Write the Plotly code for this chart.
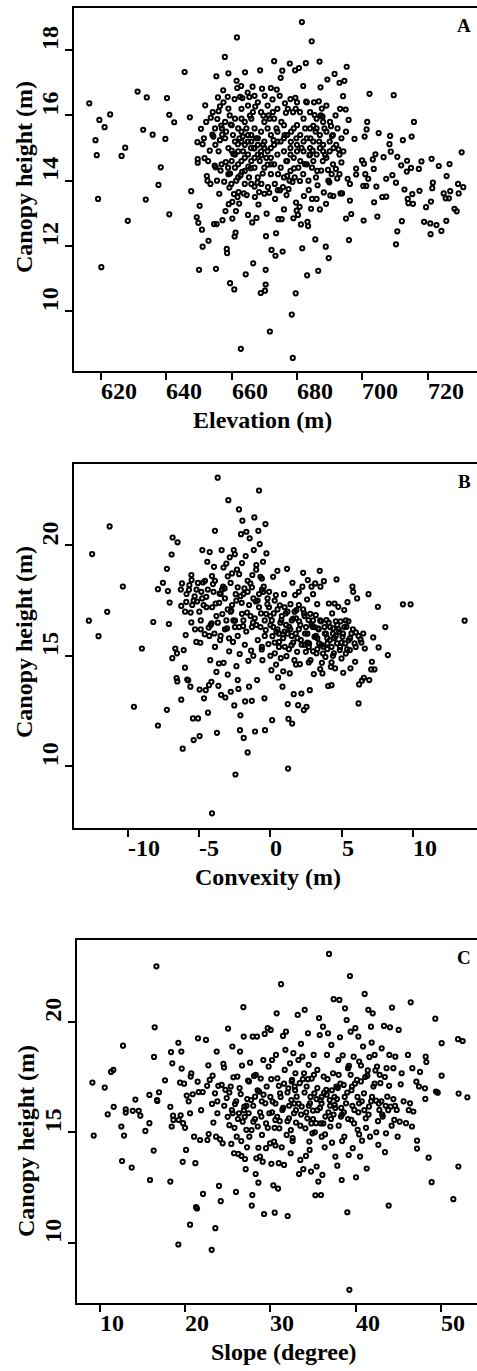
import plotly.graph_objects as go

FONT = "Liberation Serif, Times New Roman, serif"
W, H = 477, 1371

# ---------------- Panel A: Elevation (m) vs Canopy height (m) ----------------
elevation_points = [
    (616.4,16.37),(618.3,15.24),(618.7,14.78),(619.5,15.86),(621.1,15.64),(622.8,16.03),(619.1,13.44),(620.1,11.35),
    (626.3,14.76),(627.4,15.01),(628.2,12.77),(631.2,16.73),(632.9,15.56),(634.0,16.55),(633.7,13.42),(635.8,15.41),
    (637.6,13.87),(638.3,14.41),(639.7,15.28),(640.2,16.53),(640.9,16.02),(640.9,12.97),(642.4,15.79),(645.6,17.33),
    (647.2,15.94),(647.6,13.68),
    (649.5,15.18),(649.6,14.55),(649.6,14.66),(649.3,12.88),(649.8,12.71),(650.0,11.27),(650.2,13.23),(650.6,15.59),
    (650.9,12.5),(651.1,15.12),(651.1,11.98),(651.7,14.69),(651.9,16.31),(652.4,14.14),(652.6,14.0),(652.9,12.16),
    (653.3,14.92),(653.6,15.93),(654.1,15.41),(654.4,15.35),(654.6,12.67),(654.8,14.46),(655.1,14.41),(655.2,11.3),
    (655.3,17.2),(655.4,12.67),(655.6,15.89),(655.8,16.55),(656.0,16.13),(656.4,16.28),(656.4,15.24),(656.6,14.31),
    (656.8,15.69),(657.1,15.41),(657.2,12.79),(657.4,16.77),(657.7,13.97),(657.9,17.79),(658.1,13.07),(658.2,14.57),
    (658.5,11.91),(658.6,11.78),(658.8,16.57),(659.0,17.29),(659.0,16.21),(659.1,13.28),(659.3,13.79),(659.5,10.86),
    (659.5,14.22),(659.7,15.72),(660.0,14.92),(660.2,12.84),(660.2,13.35),(660.5,14.82),(660.7,13.59),(660.8,10.67),
    (660.9,12.29),(661.2,12.41),(661.3,13.07),(661.5,17.06),(661.6,18.39),(661.7,16.84),(661.9,15.12),(662.1,13.65),
    (662.3,13.3),(662.6,16.57),(662.7,14.16),(662.8,8.85),(663.0,15.9),(663.2,14.27),(663.3,16.53),(663.4,15.35),
    (663.7,13.61),(664.1,17.32),(664.3,11.13),(664.6,13.56),(665.0,12.95),(665.1,14.43),(665.4,16.56),(665.6,15.99),
    (665.8,14.38),(666.3,12.72),(666.4,16.88),(666.6,11.47),(666.8,14.99),(667.0,13.82),(667.2,16.27),(667.6,12.86),
    (667.9,13.94),(668.2,13.27),(668.4,13.65),(668.7,17.38),(668.9,10.56),(669.0,14.78),(669.3,16.82),(669.5,14.22),
    (669.7,15.99),(670.2,10.63),(670.4,10.82),(670.4,11.27),(670.5,12.3),(670.7,12.99),(671.0,14.49),(671.3,16.0),
    (671.5,13.63),(671.7,9.38),(672.0,16.84),(672.2,11.88),(672.5,16.49),(672.8,15.24),(673.0,17.66),(673.3,13.44),
    (673.4,11.7),(673.6,12.39),(673.8,16.79),(674.1,13.71),(674.3,12.82),(674.8,13.71),(675.0,17.15),(675.3,12.82),
    (675.5,17.37),(675.6,11.83),(676.0,13.12),(676.3,16.37),(676.6,16.08),(676.8,13.56),(677.0,14.15),(677.4,13.74),
    (677.8,17.59),(678.1,15.19),(678.4,9.9),(678.6,13.96),(678.7,8.57),(678.9,12.85),(679.1,14.38),(679.4,17.38),
    (679.5,16.54),(679.6,10.55),(679.6,16.2),(679.7,13.33),(679.9,13.08),(680.3,12.95),(680.6,17.45),(680.8,13.2),
    (680.9,13.99),(681.2,12.66),(681.5,18.86),(681.6,11.93),(681.9,16.9),(682.1,13.53),(682.4,14.51),(682.7,17.6),
    (682.8,16.42),(683.1,11.1),(683.2,12.74),(683.4,12.61),(683.6,13.71),(683.8,14.78),(684.3,13.14),(684.5,18.27),
    (684.6,13.44),(684.8,14.92),(685.0,15.68),(685.4,16.01),(685.6,12.2),(685.8,14.1),(686.0,13.44),(686.3,13.86),
    (686.5,11.24),(686.7,16.43),(686.9,17.65),(687.0,13.12),(687.2,16.86),(687.4,14.31),(687.6,16.21),(687.8,15.96),
    (688.2,13.64),(688.6,14.78),(688.8,11.98),(688.9,13.29),(689.3,17.1),(689.5,14.33),(689.7,11.63),(689.9,13.95),
    (690.2,13.55),(690.4,15.67),(690.7,15.37),(691.1,13.53),(691.5,17.27),(691.9,14.36),(692.3,14.07),(692.7,14.96),
    (693.0,17.0),(693.2,16.2),(693.3,13.61),(693.6,14.56),(693.8,13.61),(694.1,16.59),(694.5,17.06),(694.9,16.18),
    (695.0,12.84),(695.2,17.49),(695.5,14.06),(695.8,15.86),(695.9,12.18),(696.2,13.39),(696.2,13.9),(696.6,12.98),
    (697.6,15.28),(698.1,14.37),(698.1,14.19),(699.9,14.62),(700.3,13.84),(700.5,14.52),(700.7,15.35),(700.9,14.2),
    (701.2,13.84),(701.3,15.57),(701.5,15.8),(701.8,14.06),(702.2,16.66),(700.4,12.78),(703.2,14.65),(703.5,14.36),
    (703.6,13.34),(704.0,14.81),(704.3,13.82),(704.6,12.9),(705.0,15.46),(706.1,13.5),(706.5,14.72),(707.3,13.51),
    (707.3,14.06),(708.3,15.12),(708.5,15.37),(708.7,14.89),(709.2,14.17),(709.6,16.62),(710.3,13.94),(710.7,12.45),
    (710.3,12.05),(710.7,14.73),(711.9,14.47),(712.1,12.76),(712.4,15.24),(712.9,13.73),(713.6,14.28),(713.7,14.61),
    (713.9,13.44),(714.1,13.31),(714.9,14.39),(715.1,15.35),(715.3,13.59),(715.5,13.29),(715.8,15.8),(717.3,14.36),
    (717.5,13.69),(718.1,14.59),(718.9,12.74),(719.5,13.19),(720.8,12.69),(720.9,12.36),(721.0,13.36),(721.2,14.67),
    (721.4,13.77),(721.6,13.94),(722.7,12.64),(723.4,14.45),(724.2,12.46),(724.9,13.61),(725.5,13.46),(725.7,12.77),
    (725.8,14.14),(726.5,13.46),(726.7,14.51),(726.9,13.68),(728.2,13.14),(728.9,13.06),(729.3,13.9),(729.5,13.61),
    (730.4,14.87),(730.9,13.8),
]
elevation_points_dense = [
    (655,15.1),(656,14.9),(657,15.6),(658,15.8),(658,15.3),(659,14.2),(659,15.0),(660,15.7),(660,14.6),(661,15.9),
    (661,15.2),(661,14.4),(662,15.6),(662,14.9),(662,14.1),(663,16.2),(663,15.5),(663,14.6),(664,15.8),(664,15.1),
    (664,14.3),(665,16.3),(665,15.4),(665,14.8),(666,15.9),(666,15.2),(666,14.6),(666,13.9),(667,16.6),(667,15.6),
    (667,15.0),(667,14.4),(668,15.3),(668,14.8),(668,14.1),(669,16.1),(669,15.5),(669,14.9),(670,15.8),(670,15.2),
    (670,14.4),(670,13.6),(671,16.3),(671,15.6),(671,14.9),(672,15.4),(672,14.7),(672,14.2),(673,15.9),(673,15.1),
    (673,14.5),(674,16.2),(674,15.5),(674,14.8),(675,15.2),(675,14.4),(676,15.7),(676,14.9),(676,14.1),(677,15.4),
    (677,14.6),(678,16.5),(678,15.0),(678,14.3),(679,15.6),(679,14.7),(680,16.4),(680,15.7),(680,15.1),(681,15.4),
    (681,14.6),(682,15.9),(682,14.9),(683,15.3),(683,14.5),(684,16.1),(684,15.6),(684,14.8),(685,15.2),(685,14.6),
    (686,15.9),(686,14.8),(687,15.4),(687,15.0),(688,15.8),(688,15.1),(689,14.7),(689,15.5),(690,15.2),(690,14.9),
    (691,14.5),(691,15.4),(692,15.1),(693,14.8),
    (651.5,15.3),(652.2,15.8),(652.8,14.6),(653.5,13.9),(654.2,16.1),(654.9,15.6),(655.5,14.0),(656.2,13.6),
    (656.9,14.5),(657.5,16.4),(658.3,15.5),(658.9,14.4),(659.4,16.0),(659.9,13.9),(660.4,15.4),(660.9,16.5),
    (661.4,14.0),(661.8,13.5),(662.4,15.3),(662.9,16.9),(663.5,14.9),(664.0,13.9),(664.5,15.6),(664.9,16.7),
    (665.3,14.1),(665.9,15.0),(666.5,16.1),(667.1,13.5),(667.5,15.3),(668.0,16.4),(668.6,14.6),(669.1,13.9),
    (669.6,15.1),(670.1,16.6),(670.6,14.7),(671.1,13.8),(671.6,15.9),(672.1,14.5),(672.6,16.1),(673.2,13.9),
    (673.7,15.6),(674.2,14.2),(674.7,16.6),(675.2,15.8),(675.7,13.8),(676.2,15.4),(676.7,14.6),(677.2,16.2),
    (677.7,14.0),(678.2,15.5),(678.8,16.1),(679.3,14.1),(679.8,15.3),(680.4,14.4),(680.9,16.1),(681.4,15.0),
    (681.9,14.2),(682.5,15.6),(683.0,16.4),(683.5,14.0),(684.1,15.3),(684.6,14.4),(685.2,16.4),(685.7,15.5),
    (686.2,14.3),(686.8,15.2),(687.3,16.0),(687.9,14.6),(688.4,15.6),(689.0,16.3),(689.6,14.0),(690.1,15.8),
    (690.6,14.2),(691.2,15.0),(691.8,16.0),(692.4,15.6),(693.0,14.2),(693.6,15.3),(694.2,14.9),(695.0,15.5),
    (662.0,14.5),(664.0,14.7),(666.0,15.4),(668.0,15.1),(670.0,15.0),(672.0,15.0),(674.0,15.2),(676.0,15.3),
    (678.0,14.8),(680.0,14.9),(682.0,15.2),(684.0,15.0),(686.0,15.6),(688.0,14.9),(661.0,14.8),(663.0,15.2),
    (665.0,15.2),(667.0,14.7),
]

# ---------------- Panel B: Convexity (m) vs Canopy height (m) ----------------
convexity_points = [
    (-12.77,16.59),(-12.54,19.61),(-12.09,15.89),(-11.31,20.86),(-11.48,16.99),(-10.38,18.14),(-9.6,12.69),(-9.04,15.33),
    (-8.24,16.53),(-7.91,11.84),(-7.91,18.02),(-7.56,18.31),(-7.28,18.94),(-7.21,17.93),(-7.09,17.41),(-7.14,16.44),
    (-7.28,12.55),(-6.95,19.59),(-6.88,20.36),(-6.9,14.89),(-6.69,15.33),(-6.6,13.99),(-6.55,13.84),(-6.53,20.14),
    (-6.57,15.11),(-6.27,17.26),(-6.27,13.01),(-6.22,18.28),(-6.17,10.79),(-6.1,15.26),(-6.01,14.46),(-5.96,15.94),
    (-5.92,17.44),(-5.85,13.92),(-5.78,13.89),(-5.73,17.99),(-5.63,13.6),(-5.56,18.66),(-5.54,18.43),(-5.56,16.51),
    (-5.61,16.96),(-5.45,12.16),(-5.4,11.18),(-5.33,17.69),(-5.21,15.63),(-5.16,17.46),(-5.09,12.16),(-4.98,11.36),
    (-4.98,13.47),(-4.93,15.59),(-4.86,17.9),(-4.79,19.79),(-4.74,18.32),(-4.67,13.07),(-4.62,15.98),(-4.55,13.44),
    (-4.51,17.67),(-4.44,19.26),(-4.39,12.42),(-4.34,16.28),(-4.32,13.67),(-4.27,19.7),(-4.23,14.8),(-4.15,13.82),
    (-4.13,16.47),(-4.11,7.86),(-4.11,18.61),(-4.04,18.25),(-3.97,19.03),(-3.94,16.01),(-3.9,20.66),(-3.85,17.37),
    (-3.8,14.27),(-3.76,11.51),(-3.71,23.07),(-3.66,13.64),(-3.62,14.65),(-3.57,17.82),(-3.54,15.71),(-3.47,13.23),
    (-3.43,19.79),(-3.38,16.89),(-3.33,18.13),(-3.29,14.68),(-3.22,18.05),(-3.17,13.11),(-3.1,19.18),(-3.05,16.24),
    (-3.0,14.15),(-2.96,22.05),(-2.91,15.79),(-2.86,19.46),(-2.79,13.37),(-2.75,17.04),(-2.7,18.73),(-2.63,15.63),
    (-2.58,19.79),(-2.54,12.75),(-2.49,16.59),(-2.46,9.62),(-2.44,17.79),(-2.39,14.53),(-2.35,18.91),(-2.3,13.9),
    (-2.25,13.5),(-2.21,21.63),(-2.16,15.08),(-2.14,11.63),(-2.11,12.3),(-2.07,20.51),(-2.02,17.4),(-1.97,21.12),
    (-1.92,16.34),(-1.88,11.28),(-1.83,18.05),(-1.78,12.93),(-1.74,19.52),(-1.69,20.62),(-1.64,16.96),(-1.6,10.62),
    (-1.55,14.77),(-1.5,13.6),(-1.46,20.32),(-1.41,18.28),(-1.36,15.23),(-1.31,12.96),(-1.27,18.66),(-1.22,16.5),
    (-1.17,19.79),(-1.13,21.27),(-1.08,11.57),(-1.03,17.46),(-0.99,19.11),(-0.94,13.9),(-0.89,15.71),(-0.85,20.66),
    (-0.8,22.49),(-0.75,20.06),(-0.7,18.58),(-0.66,16.92),(-0.61,15.29),(-0.56,14.8),(-0.52,19.26),(-0.47,18.13),
    (-0.42,13.07),(-0.38,11.63),(-0.35,20.97),(-0.33,16.16),(-0.28,19.64),(-0.21,17.34),(-0.14,15.53),(-0.09,17.9),
    (0.0,16.39),(0.07,14.35),(0.12,12.08),(0.14,15.89),(0.19,18.58),(0.23,16.92),(0.31,15.11),(0.38,17.75),
    (0.42,16.09),(0.49,18.85),(0.54,14.02),(0.61,15.63),(0.66,17.29),(0.73,14.89),(0.77,16.62),(0.85,13.6),
    (0.89,15.97),(0.96,17.79),(1.01,15.41),(1.08,16.92),(1.13,14.98),(1.17,18.94),(1.22,12.81),(1.24,9.89),
    (1.27,12.14),(1.31,16.31),(1.36,14.2),(1.41,17.34),(1.48,15.48),(1.53,11.93),(1.55,18.31),(1.6,16.69),
    (1.64,13.26),(1.69,14.8),(1.74,17.75),(1.78,16.01),(1.83,17.07),(1.88,15.18),(1.95,12.76),(2.0,17.9),
    (2.02,16.56),(2.07,14.62),(2.14,15.71),(2.18,13.29),(2.25,18.13),(2.3,18.76),(2.35,12.54),(2.37,16.92),
    (2.44,16.01),(2.49,15.18),(2.54,12.69),(2.58,17.55),(2.63,18.43),(2.68,16.62),(2.72,15.56),(2.77,13.44),
    (2.82,14.8),(2.89,18.13),(2.96,16.31),(3.0,17.79),(3.05,14.17),(3.1,15.86),(3.15,18.28),(3.19,16.84),
    (3.24,15.11),(3.29,17.34),(3.36,16.24),(3.43,15.56),(3.47,18.85),(3.52,18.13),(3.57,16.56),(3.62,14.68),
    (3.66,14.2),(3.71,15.41),(3.76,18.38),(3.83,16.01),(3.87,14.95),(3.94,16.62),(4.01,15.56),(4.06,13.63),
    (4.11,17.37),(4.18,15.71),(4.25,14.5),(4.3,13.67),(4.34,16.92),(4.41,16.24),(4.46,15.11),(4.51,17.37),
    (4.55,14.43),(4.6,16.56),(4.65,18.46),(4.69,15.56),(4.77,17.22),(4.84,16.09),(4.88,15.26),(4.93,16.56),
    (5.0,14.88),(5.07,15.86),(5.12,14.23),(5.19,17.07),(5.26,15.56),(5.35,16.31),(5.42,17.43),(5.49,16.56),
    (5.59,15.26),(5.63,14.43),(5.7,16.01),(5.77,18.13),(5.82,17.9),(5.92,15.56),(5.96,14.73),(6.01,16.06),
    (6.1,17.6),(6.2,12.84),(6.24,13.7),(6.34,15.74),(6.43,13.87),(6.53,16.01),(6.57,14.0),(6.64,15.33),
    (6.9,17.79),(6.95,13.9),(7.09,14.38),(7.14,14.73),(7.23,15.83),(7.32,14.38),(7.56,17.22),(7.61,15.38),
    (8.08,16.3),(8.26,15.03),(9.32,17.33),(9.86,17.33),(13.66,16.59),
]
convexity_points_dense = [
    (-4.8,17.6),(-4.5,17.2),(-4.2,16.4),(-4.0,17.9),(-3.8,16.8),(-3.6,17.4),(-3.4,18.0),(-3.2,16.2),(-3.0,17.1),
    (-2.8,18.3),(-2.6,16.6),(-2.4,17.5),(-2.2,18.7),(-2.0,16.9),(-1.9,17.8),(-1.7,16.1),(-1.5,17.3),(-1.3,18.1),
    (-1.1,16.7),(-0.9,17.5),(-0.7,16.3),(-0.5,17.9),(-0.3,16.9),(-0.1,17.2),(0.1,16.6),(0.3,17.5),(0.5,16.2),
    (0.6,15.4),(0.8,16.8),(1.0,17.2),(1.2,16.0),(1.3,15.3),(1.5,16.6),(1.7,17.0),(1.9,15.8),(2.1,16.4),(2.3,17.1),
    (2.4,15.5),(2.6,16.0),(2.8,16.9),(3.0,15.2),(3.1,16.3),(3.3,15.8),(3.5,16.6),(3.7,15.1),(3.9,16.0),(4.0,15.3),
    (4.2,16.3),(4.4,15.0),(4.5,15.8),(4.7,16.4),(4.9,15.4),(5.1,16.0),(5.3,15.1),(5.5,15.7),(-5.5,17.3),(-5.2,18.0),
    (-5.0,17.0),(-4.6,18.4),(-4.3,15.9),(-3.9,15.4),(-3.5,15.9),(-2.9,15.2),(-2.3,15.9),(-1.8,15.5),(-1.2,15.0),
    (-0.6,15.4),(0.0,15.0),(0.4,14.6),(0.9,14.3),(1.8,14.6),(2.7,14.7),(3.5,14.4),(4.3,14.7),(-2.0,19.2),(-1.0,18.9),
    (-3.3,19.0),(-2.5,19.6),(-0.6,18.5),
    (-5.9,17.8),(-5.7,18.2),(-5.4,17.5),(-5.1,18.3),(-4.9,16.6),(-4.7,17.3),(-4.4,18.0),(-4.1,17.2),(-3.9,18.4),
    (-3.7,16.5),(-3.5,17.8),(-3.2,17.6),(-3.0,18.6),(-2.7,17.3),(-2.5,16.3),(-2.3,18.1),(-2.1,17.7),(-1.9,16.6),
    (-1.6,17.9),(-1.4,16.8),(-1.2,17.6),(-1.0,16.4),(-0.8,17.2),(-0.6,18.0),(-0.4,16.6),(-0.2,17.6),(0.0,16.8),
    (0.2,16.3),(0.3,15.6),(0.5,17.1),(0.7,16.5),(0.9,15.8),(1.1,16.4),(1.2,17.0),(1.4,16.2),(1.6,15.6),(1.8,16.7),
    (2.0,16.2),(2.2,15.5),(2.4,16.8),(2.5,16.3),(2.7,15.4),(2.9,16.4),(3.2,15.9),(3.4,16.2),(3.6,15.5),(3.8,16.3),
    (4.0,15.8),(4.1,16.5),(4.3,15.4),(4.6,15.9),(4.8,16.2),(5.0,15.6),(5.2,16.3),(5.4,15.3),(5.6,15.8),(5.8,16.2),
    (6.0,15.4),(6.2,15.9),(6.4,15.6),(-6.3,18.0),(-6.0,17.0),(-5.3,16.2),(-4.9,16.2),(-3.1,16.6),(-2.2,16.3),
    (-1.3,16.3),(-0.4,15.9),(0.6,16.0),(1.5,15.9),(2.6,15.6),(3.3,15.3),(4.4,16.0),(5.3,16.6),(-1.6,18.4),(-2.8,17.0),
    (-0.8,17.8),(1.0,16.1),(2.0,17.3),(3.0,16.6),
]

# ---------------- Panel C: Slope (degree) vs Canopy height (m) ----------------
slope_points = [
    (9.17,17.25),(9.32,14.85),(10.61,17.02),(10.96,15.81),(11.35,17.73),(11.62,17.82),(11.66,16.15),(12.56,15.26),
    (12.64,13.7),(12.75,18.92),(12.87,14.85),(13.07,16.04),(13.07,15.89),(13.77,13.4),(13.89,15.97),(14.2,16.48),
    (14.59,15.97),(14.78,15.75),(15.37,15.06),(15.84,16.69),(15.84,15.41),(15.91,12.84),(16.34,14.17),(16.38,18.41),
    (16.46,19.75),(16.66,22.51),(16.73,16.46),(16.77,16.42),(16.97,16.81),(17.67,17.35),(18.29,16.15),(18.29,12.77),
    (18.37,18.63),(18.45,15.26),(18.52,18.12),(18.61,15.75),(18.65,15.56),(19.23,19.05),(19.23,9.92),(19.27,15.56),
    (19.43,17.25),(19.5,15.77),(19.58,18.65),(19.62,17.88),(19.74,13.66),(19.78,15.41),(19.9,17.2),(20.01,15.2),
    (20.13,14.2),(20.21,16.66),(20.44,16.4),(20.6,15.86),(20.6,10.82),(20.67,17.52),(20.75,17.67),(20.91,16.72),
    (21.07,14.8),(21.22,13.6),(21.3,11.61),(21.42,11.55),(21.49,17.29),(21.53,19.25),(21.61,16.82),(21.77,14.65),
    (22.08,16.82),(22.12,12.21),(22.47,19.18),(22.63,14.65),(22.74,18.03),(22.78,14.92),(22.9,17.37),(23.13,9.68),
    (23.17,16.28),(23.24,17.56),(23.33,15.44),(23.52,16.76),(23.56,10.66),(23.64,14.8),(23.72,18.65),(23.8,15.86),
    (23.91,17.1),(23.99,12.57),(24.11,14.68),(24.19,11.88),(24.3,17.14),(24.42,14.5),(24.5,18.09),(24.58,17.93),
    (24.73,16.92),(24.89,16.55),(25.05,19.69),(25.2,15.32),(25.36,17.07),(25.43,14.47),(25.55,18.88),(25.59,15.86),
    (25.67,17.49),(25.75,14.05),(25.86,16.28),(25.98,12.3),(26.06,14.8),(26.14,17.52),(26.25,14.02),(26.33,15.86),
    (26.45,18.65),(26.53,16.73),(26.61,13.93),(26.68,18.02),(26.76,15.48),(26.84,20.66),(26.88,19.33),(26.96,16.16),
    (27.03,13.79),(27.11,13.33),(27.19,15.11),(27.27,14.32),(27.39,17.34),(27.46,15.86),(27.54,14.8),(27.62,18.15),
    (27.74,16.46),(27.82,11.68),(27.89,12.16),(27.93,19.33),(28.01,15.48),(28.09,17.55),(28.21,16.61),(28.28,13.11),
    (28.36,13.82),(28.44,19.33),(28.52,15.26),(28.6,12.72),(28.67,16.84),(28.79,13.9),(28.87,17.43),(28.95,15.71),
    (29.02,14.88),(29.1,13.67),(29.18,18.27),(29.26,11.3),(29.34,19.45),(29.41,16.31),(29.49,14.28),(29.57,17.07),
    (29.69,19.71),(29.8,17.97),(29.88,15.86),(29.96,14.5),(30.04,19.63),(30.12,13.57),(30.2,18.27),(30.27,16.39),
    (30.35,12.6),(30.43,14.58),(30.51,11.36),(30.59,15.56),(30.66,18.5),(30.74,20.38),(30.82,17.44),(30.9,12.45),
    (30.98,13.6),(31.05,15.18),(31.13,16.76),(31.25,21.7),(31.33,14.32),(31.4,16.01),(31.48,19.36),(31.6,13.52),
    (31.68,17.82),(31.76,18.73),(31.83,19.55),(31.91,14.88),(32.03,11.21),(32.11,16.99),(32.18,15.63),(32.3,18.12),
    (32.38,14.05),(32.46,16.46),(32.54,17.37),(32.61,14.73),(32.69,18.58),(32.77,15.86),(32.85,17.07),(32.93,17.67),
    (33.0,15.44),(33.08,16.61),(33.2,20.31),(33.28,18.27),(33.36,13.11),(33.43,17.22),(33.51,13.75),(33.59,19.0),
    (33.67,16.16),(33.75,18.42),(33.86,13.33),(33.94,17.67),(34.02,20.54),(34.1,15.18),(34.17,13.93),(34.25,17.07),
    (34.33,15.63),(34.41,19.48),(34.49,18.05),(34.56,14.58),(34.64,16.31),(34.76,13.22),(34.84,17.43),(34.92,14.95),
    (34.99,15.98),(35.07,18.5),(35.15,16.76),(35.27,12.15),(35.35,15.41),(35.42,13.45),(35.5,17.82),(35.62,12.77),
    (35.7,20.17),(35.78,19.4),(35.85,16.46),(35.93,12.16),(36.01,14.8),(36.09,13.07),(36.16,19.78),(36.24,17.52),
    (36.36,14.32),(36.44,15.71),(36.55,16.92),(36.63,18.5),(36.75,19.48),(36.87,23.07),(36.95,16.46),(37.02,15.26),
    (37.14,18.95),(37.22,14.53),(37.34,17.67),(37.41,21.02),(37.53,16.24),(37.61,13.9),(37.73,17.07),(37.84,13.49),
    (37.96,18.27),(38.08,20.99),(38.15,19.3),(38.27,15.71),(38.35,12.84),(38.47,18.48),(38.58,17.14),(38.66,14.8),
    (38.74,20.61),(38.86,16.31),(38.93,20.08),(39.01,11.38),(39.09,17.9),(39.17,13.97),(39.25,7.87),(39.32,22.07),
    (39.4,19.55),(39.48,15.56),(39.56,17.07),(39.64,14.28),(39.75,18.42),(39.83,16.01),(39.95,19.71),(40.03,12.96),
    (40.14,17.37),(40.22,15.11),(40.3,19.33),(40.38,16.31),(40.5,13.9),(40.61,18.02),(40.73,14.62),(40.85,18.88),
    (40.96,16.76),(41.04,21.26),(41.16,15.63),(41.28,13.36),(41.35,17.56),(41.47,20.54),(41.55,16.16),(41.67,14.8),
    (41.78,19.78),(41.86,19.06),(41.98,20.38),(42.06,17.07),(42.21,18.5),(42.37,16.43),(42.49,17.97),(42.64,14.43),
    (42.76,16.01),(42.88,17.22),(43.03,18.8),(43.15,15.71),(43.3,19.81),(43.42,14.1),(43.54,14.95),(43.69,16.61),
    (43.85,11.68),(43.93,18.5),(44.01,19.75),(44.09,16.16),(44.24,20.64),(44.4,17.9),(44.51,15.56),(44.63,18.42),
    (44.79,16.01),(44.9,14.8),(45.02,19.63),(45.14,15.48),(45.26,17.17),(45.37,17.67),(45.88,15.41),(46.11,18.5),
    (46.35,16.31),(46.43,20.88),(46.58,15.26),(46.62,17.9),(46.74,15.94),(47.09,17.29),(47.17,14.62),(47.17,14.26),
    (47.4,17.07),(47.52,17.73),(48.1,16.99),(48.14,16.51),(48.18,18.42),(48.26,18.18),(48.53,13.85),(48.88,12.74),
    (49.31,20.14),(49.39,16.84),(49.59,16.79),(50.05,19.03),(50.05,17.56),(51.42,11.97),(51.97,19.21),(52.01,13.45),
    (52.04,16.75),(52.51,19.13),(53.06,16.58),
]
slope_points_dense = [
    (26.0,16.4),(27.0,15.7),(28.0,16.2),(28.5,16.9),(29.5,15.4),(30.0,16.6),(30.5,15.2),(31.0,17.1),(31.5,16.1),
    (32.0,15.5),(32.5,17.3),(33.0,16.0),(33.5,15.3),(34.0,16.8),(34.5,16.2),(35.0,15.6),(35.5,17.0),(35.8,16.1),
    (36.2,15.4),(36.6,16.7),(37.0,16.2),(37.4,15.8),(37.8,16.5),(38.2,17.2),(38.6,15.9),(39.0,16.8),(39.4,17.6),
    (39.8,15.4),(40.2,16.6),(40.6,17.3),(41.0,16.0),(41.4,17.8),(41.8,16.4),(42.2,17.2),(42.6,15.5),(43.0,16.4),
    (43.4,17.5),(43.8,16.0),(44.2,15.3),(35.2,15.0),(36.0,16.3),(37.2,16.9),(38.0,15.3),(39.6,16.2),(41.2,15.2),
    (34.4,17.4),(32.8,16.3),(30.8,15.7),(27.5,17.3),(25.5,16.0),
    (25.2,16.8),(25.8,15.2),(26.4,17.0),(26.9,16.0),(27.3,16.5),(27.8,15.1),(28.3,17.6),(28.8,15.9),(29.2,16.7),
    (29.7,15.2),(30.1,17.4),(30.6,16.3),(31.1,15.5),(31.6,17.2),(32.0,16.8),(32.4,15.1),(32.9,16.9),(33.3,16.3),
    (33.8,17.4),(34.2,15.9),(34.7,16.6),(35.1,17.6),(35.5,16.0),(35.9,15.4),(36.3,16.8),(36.7,17.4),(37.1,15.6),
    (37.5,16.6),(37.9,17.0),(38.3,16.1),(38.7,16.6),(39.1,15.6),(39.5,16.9),(39.9,17.2),(40.3,15.9),(40.7,16.4),
    (41.1,17.5),(41.5,15.8),(41.9,16.6),(42.3,17.8),(42.7,16.3),(43.1,15.8),(43.5,16.2),(43.9,17.1),(44.4,16.5),
    (36.0,16.6),(36.8,15.9),(37.6,16.1),(38.4,15.8),(35.4,16.5),(34.8,15.4),(33.6,15.8),(32.2,16.2),(31.2,16.6),
    (30.2,15.9),(29.0,16.4),(28.2,15.6),(27.2,16.2),(26.2,15.6),(40.4,18.2),(41.6,18.4),(39.2,18.0),(38.0,17.6),
    (42.8,17.6),(43.6,17.9),(44.6,16.2),(45.6,16.4),(46.2,16.0),(24.6,16.2),(23.8,16.4),(22.6,17.1),(21.9,16.0),
    (25.0,15.7),(26.6,14.6),(28.6,14.3),(30.6,14.4),(32.6,14.6),(34.6,14.2),(36.4,14.9),(38.4,14.6),(40.4,14.9),
    (42.4,15.0),
]

# ---------------- Ticks ----------------
a_xticks = [620, 640, 660, 680, 700, 720]
a_yticks = [10, 12, 14, 16, 18]
b_xticks = [-10, -5, 0, 5, 10]
b_yticks = [10, 15, 20]
c_xticks = [10, 20, 30, 40, 50]
c_yticks = [10, 15, 20]

x_titles = ["Elevation (m)", "Convexity (m)", "Slope (degree)"]
y_title = "Canopy height (m)"
panel_letters = ["A", "B", "C"]

# layout geometry (pixels in the 477x1371 page)
panels = [
    dict(pts=elevation_points + elevation_points_dense, xt=a_xticks, yt=a_yticks,
         xr=[611.73, 735.1], yr=[8.17, 19.29],
         left=74, top=8, bottom=371, xtitle_x=262, ytitle_y=177, ylab_x=50, ytitle_x=24),
    dict(pts=convexity_points + convexity_points_dense, xt=b_xticks, yt=b_yticks,
         xr=[-13.85, 14.53], yr=[7.21, 23.69],
         left=73.5, top=464, bottom=827.7, xtitle_x=268, ytitle_y=642, ylab_x=50, ytitle_x=24),
    dict(pts=slope_points + slope_points_dense, xt=c_xticks, yt=c_yticks,
         xr=[7.33, 54.19], yr=[7.26, 23.7],
         left=76.7, top=940, bottom=1303.3, xtitle_x=284, ytitle_y=1141, ylab_x=53, ytitle_x=26),
]

fig = go.Figure()
annotations = []
LAB = dict(family=FONT, size=24, color="black", weight="bold")

for i, p in enumerate(panels):
    n = "" if i == 0 else str(i + 1)
    xs = [q[0] for q in p["pts"]]
    ys = [q[1] for q in p["pts"]]
    fig.add_trace(go.Scatter(
        x=xs, y=ys, mode="markers", xaxis="x" + n, yaxis="y" + n,
        marker=dict(symbol="circle-open", size=4.2, color="black", line=dict(width=2, color="black")),
        showlegend=False, hoverinfo="skip"))
    axis_common = dict(showgrid=False, zeroline=False, showline=True, linewidth=2, linecolor="black",
                       ticks="outside", ticklen=7, tickwidth=1.6, tickcolor="black", showticklabels=False)
    fig.update_layout(**{
        "xaxis" + n: dict(axis_common, range=p["xr"], domain=[p["left"] / W, 1], anchor="y" + n,
                          tickvals=p["xt"], mirror=True),
        "yaxis" + n: dict(axis_common, range=p["yr"], domain=[1 - p["bottom"] / H, 1 - p["top"] / H],
                          anchor="x" + n, tickvals=p["yt"]),
    })
    # x tick labels (left-aligned at the tick)
    for v in p["xt"]:
        annotations.append(dict(x=v, xref="x" + n, y=1 - (p["bottom"] + 20) / H, yref="paper",
                                text=str(v), showarrow=False, xanchor="left", yanchor="middle",
                                font=LAB, xshift=-2))
    # y tick labels (rotated, starting at the tick)
    for v in p["yt"]:
        annotations.append(dict(x=p["ylab_x"] / W, xref="paper", y=v, yref="y" + n,
                                text=str(v), showarrow=False, textangle=-90, xanchor="center",
                                yanchor="bottom", font=LAB, yshift=-2))
    # axis titles
    annotations.append(dict(x=p["xtitle_x"] / W, xref="paper", y=1 - (p["bottom"] + 49) / H, yref="paper",
                            text=x_titles[i], showarrow=False, xanchor="center", yanchor="middle", font=LAB))
    annotations.append(dict(x=p["ytitle_x"] / W, xref="paper", y=1 - p["ytitle_y"] / H, yref="paper",
                            text=y_title, showarrow=False, textangle=-90, xanchor="center",
                            yanchor="middle", font=LAB))
    # panel letter
    annotations.append(dict(x=464 / W, xref="paper", y=1 - (p["top"] + 17) / H, yref="paper",
                            text=panel_letters[i], showarrow=False, xanchor="center", yanchor="middle",
                            font=dict(family=FONT, size=19, color="black", weight="bold")))

fig.update_layout(width=W, height=H, margin=dict(l=0, r=0, t=0, b=0),
                  paper_bgcolor="white", plot_bgcolor="white", annotations=annotations)

fig.write_html("out.html")
